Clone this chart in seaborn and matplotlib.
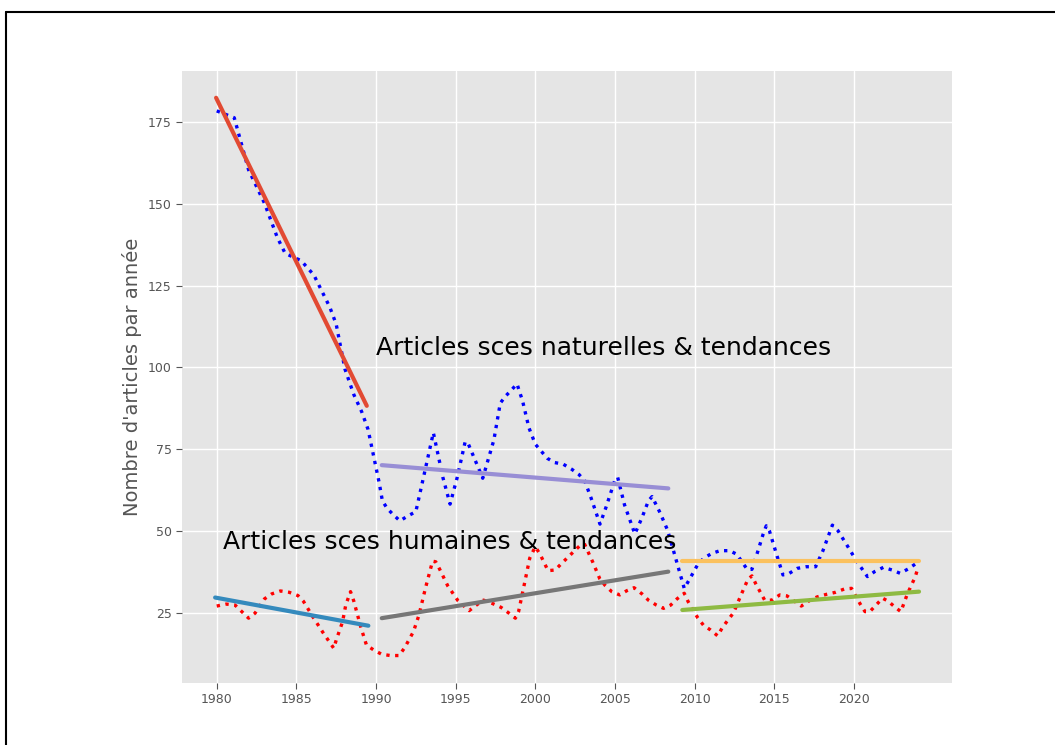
import matplotlib
matplotlib.use("Agg")
import matplotlib.pyplot as plt
import seaborn as sns
from matplotlib.lines import Line2D

# Articles per year - natural sciences
nat_years = [1980.0, 1981.1, 1982.0, 1983.0, 1983.8, 1984.3, 1985.3, 1986.1, 1987.1, 1987.5,
             1988.05, 1988.6, 1989.1, 1989.5, 1990.2, 1990.4, 1990.7, 1991.1, 1991.5, 1992.0,
             1992.5, 1993.0, 1993.6, 1994.2, 1994.65, 1995.1, 1995.6, 1995.8, 1996.7, 1997.4,
             1997.8, 1998.1, 1998.5, 1998.85, 1999.2, 1999.6, 2000.0, 2000.4, 2000.75, 2001.2,
             2001.75, 2002.3, 2002.75, 2003.1, 2003.5, 2004.06, 2004.45, 2005.0, 2005.17, 2005.6,
             2006.25, 2006.7, 2007.1, 2007.33, 2007.83, 2008.3, 2008.77, 2009.35, 2009.65, 2010.2,
             2010.6, 2011.1, 2011.6, 2012.2, 2012.65, 2013.3, 2013.6, 2013.95, 2014.3, 2014.5,
             2014.7, 2015.2, 2015.55, 2015.95, 2016.45, 2017.0, 2017.6, 2018.05, 2018.65, 2019.0,
             2019.6, 2020.2, 2020.85, 2021.3, 2021.85, 2022.4, 2022.9, 2023.4, 2024.0]
nat_counts = [178.3, 176.2, 160.3, 150.1, 139.7, 134.8, 132.6, 128.2, 118.4, 113.2,
              99.5, 91.8, 86.5, 81.1, 64.8, 59.3, 57.0, 55.0, 53.2, 54.7,
              56.0, 66.9, 80.1, 66.4, 58.3, 66.5, 77.4, 76.6, 66.2, 77.9,
              89.1, 91.1, 93.1, 95.0, 89.8, 81.6, 76.6, 74.3, 72.3, 71.0,
              70.5, 68.9, 67.3, 65.4, 60.2, 52.2, 57.5, 65.7, 66.5, 58.1,
              49.2, 54.2, 59.3, 60.6, 55.7, 50.4, 42.5, 32.6, 35.1, 39.9,
              41.9, 43.3, 44.1, 44.1, 43.0, 38.4, 38.4, 43.6, 49.1, 51.7,
              50.1, 42.1, 36.7, 37.2, 38.7, 39.2, 39.2, 44.0, 51.9, 50.2,
              45.5, 40.7, 36.2, 37.7, 39.0, 38.2, 37.2, 38.5, 40.5]

# Articles per year - human sciences
hum_years = [1980.0, 1980.6, 1981.15, 1982.0, 1982.4, 1983.0, 1983.45, 1984.0, 1984.55, 1985.1,
             1985.45, 1986.05, 1986.7, 1987.35, 1987.5, 1987.9, 1988.1, 1988.4, 1988.6, 1989.05,
             1989.4, 1989.85, 1990.35, 1990.9, 1991.45, 1991.8, 1992.35, 1992.7, 1993.1, 1993.55,
             1993.75, 1994.0, 1994.5, 1995.15, 1995.85, 1996.3, 1996.75, 1997.3, 1997.85, 1998.3,
             1998.75, 1998.95, 1999.3, 1999.65, 2000.0, 2000.3, 2000.8, 2001.25, 2001.65, 2002.45,
             2002.9, 2003.1, 2003.6, 2004.05, 2004.4, 2004.8, 2005.3, 2005.75, 2006.2, 2006.7,
             2007.1, 2007.6, 2008.05, 2008.5, 2008.9, 2009.35, 2009.6, 2010.2, 2010.55, 2011.0,
             2011.45, 2011.75, 2012.45, 2012.9, 2013.35, 2013.6, 2013.85, 2014.4, 2014.85, 2015.35,
             2015.8, 2016.7, 2017.25, 2017.7, 2018.3, 2018.85, 2019.4, 2019.85, 2020.4, 2020.7,
             2021.0, 2021.8, 2022.15, 2022.6, 2022.95, 2023.35, 2023.85, 2024.0]
hum_counts = [27.2, 27.8, 27.5, 23.5, 25.0, 29.4, 30.9, 31.8, 31.4, 30.4,
              28.6, 23.8, 18.9, 14.3, 16.8, 22.4, 27.5, 31.6, 28.8, 20.7,
              15.3, 13.8, 12.5, 12.1, 12.1, 14.5, 19.4, 24.5, 32.6, 40.9,
              40.7, 38.4, 33.4, 28.8, 25.8, 27.5, 29.0, 28.0, 26.8, 25.2,
              23.5, 25.5, 33.6, 41.8, 45.3, 43.0, 38.0, 38.2, 40.2, 44.0,
              46.1, 46.0, 40.7, 35.5, 33.4, 31.6, 30.6, 31.9, 32.8, 30.9,
              29.0, 27.5, 26.5, 27.5, 29.4, 31.1, 28.5, 23.6, 21.4, 19.9,
              18.1, 20.7, 25.2, 30.4, 35.4, 36.4, 33.9, 29.0, 29.0, 30.6,
              30.3, 27.2, 29.0, 30.0, 30.8, 31.4, 32.4, 32.6, 27.8, 25.5,
              25.5, 29.6, 28.7, 26.8, 25.5, 30.8, 36.1, 38.5]

# Linear trends per period: (start year, end year), (start value, end value)
nat_trend_years = [(1979.96, 1989.42), (1990.36, 2008.35), (2009.23, 2024.09)]
nat_trend_values = [(182.3, 88.3), (70.2, 63.1), (41.0, 41.0)]
hum_trend_years = [(1979.9, 1989.52), (1990.36, 2008.35), (2009.23, 2024.09)]
hum_trend_values = [(29.8, 21.2), (23.5, 37.7), (26.0, 31.6)]

x_ticks = [1980, 1985, 1990, 1995, 2000, 2005, 2010, 2015, 2020]
nat_label = "Articles sces naturelles & tendances"
hum_label = "Articles sces humaines & tendances"
y_label = "Nombre d'articles par année"

plt.style.use("ggplot")
sns.set_style("darkgrid", {"axes.facecolor": "#E5E5E5", "grid.color": "white"})
plt.rcParams["font.family"] = ["DejaVu Sans"]

W, H = 1055, 745
fig = plt.figure(figsize=(W / 100, H / 100), dpi=100)
ax = fig.add_axes([182 / W, 1 - 683 / H, (952 - 182) / W, (683 - 71) / H])
ax.set_facecolor("#E5E5E5")

sns.lineplot(x=nat_years, y=nat_counts, color="b", linestyle=":", linewidth=2.4,
             sort=False, ax=ax)
sns.lineplot(x=hum_years, y=hum_counts, color="r", linestyle=":", linewidth=2.4,
             sort=False, ax=ax)

# trend segments alternate between the two series, following the style colour cycle
cycle = ["#E24A33", "#348ABD", "#988ED5", "#777777", "#FBC15E", "#8EBA42"]
for i in range(3):
    sns.lineplot(x=list(nat_trend_years[i]), y=list(nat_trend_values[i]),
                 color=cycle[2 * i], linewidth=3, ax=ax)
    sns.lineplot(x=list(hum_trend_years[i]), y=list(hum_trend_values[i]),
                 color=cycle[2 * i + 1], linewidth=3, ax=ax)

ax.text(1990.0, 103.8, nat_label, fontsize=18, color="black")
ax.text(1980.4, 44.5, hum_label, fontsize=18, color="black")

ax.set_xlim(1977.82, 2026.16)
ax.set_ylim(3.72, 190.47)
ax.set_xticks(x_ticks)
ax.set_xticklabels([str(t) for t in x_ticks])
ax.set_yticks([25, 50, 75, 100, 125, 150, 175])
ax.tick_params(axis="both", labelsize=9, colors="#555555", length=4, width=0.8,
               direction="out", bottom=True, left=True)
ax.set_xlabel("")
ax.set_ylabel(y_label, fontsize=14, color="#555555")
ax.grid(True, color="white", linewidth=1)
for s in ax.spines.values():
    s.set_visible(False)

# figure frame (top and left edges)
fig.add_artist(Line2D([6 / W, 1.0], [1 - 12 / H, 1 - 12 / H], color="black",
                      linewidth=1.5, transform=fig.transFigure))
fig.add_artist(Line2D([6 / W, 6 / W], [0.0, 1 - 12 / H], color="black",
                      linewidth=1.5, transform=fig.transFigure))

fig.savefig("out.png", dpi=100, facecolor="white")
